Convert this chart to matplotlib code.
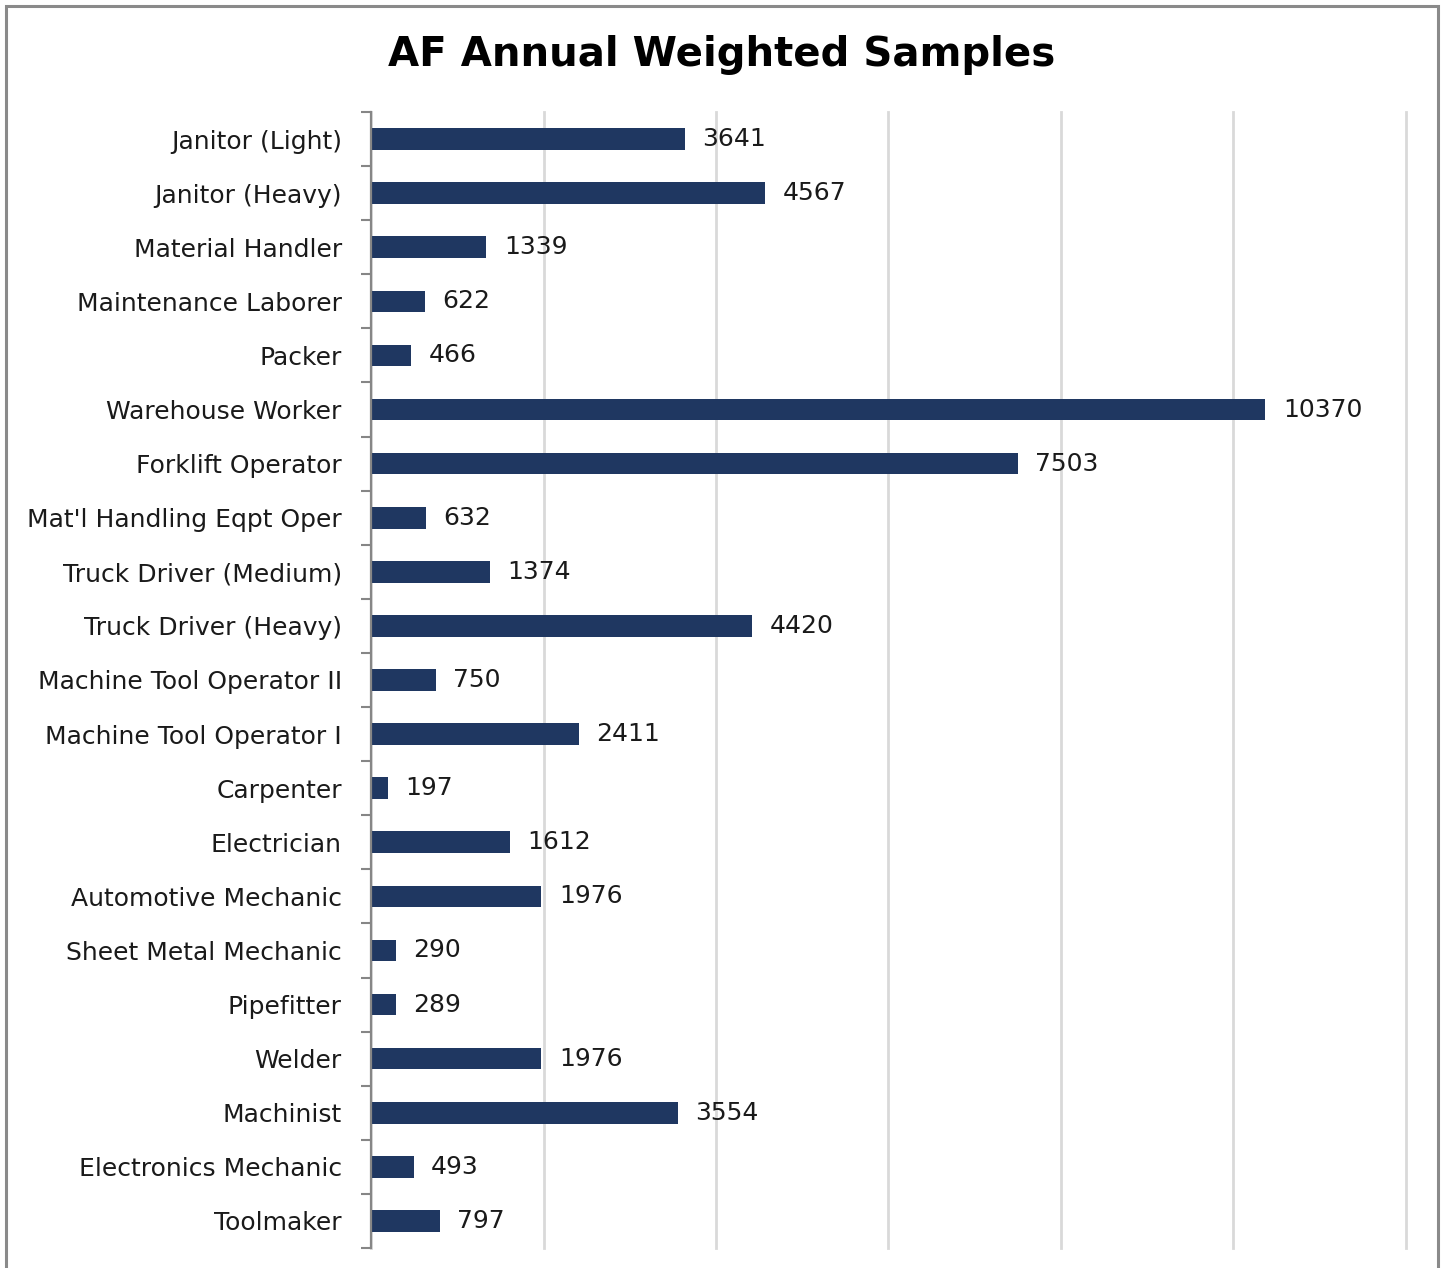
import matplotlib
matplotlib.use("Agg")
import matplotlib.pyplot as plt
import numpy as np
from matplotlib.patches import Rectangle

categories = ["Janitor (Light)", "Janitor (Heavy)", "Material Handler", "Maintenance Laborer",
              "Packer", "Warehouse Worker", "Forklift Operator", "Mat'l Handling Eqpt Oper",
              "Truck Driver (Medium)", "Truck Driver (Heavy)", "Machine Tool Operator II",
              "Machine Tool Operator I", "Carpenter", "Electrician", "Automotive Mechanic",
              "Sheet Metal Mechanic", "Pipefitter", "Welder", "Machinist",
              "Electronics Mechanic", "Toolmaker"]
values = [3641, 4567, 1339, 622, 466, 10370, 7503, 632, 1374, 4420, 750, 2411,
          197, 1612, 1976, 290, 289, 1976, 3554, 493, 797]
title = "AF Annual Weighted Samples"

plt.rcParams['font.family'] = ['DejaVu Sans']

W, H = 1444, 1268
fig = plt.figure(figsize=(W / 100, H / 100), dpi=100)
fig.patch.set_facecolor('white')

# outer border
fig.add_artist(Rectangle((6 / W, -0.05), (1438 - 6) / W, 1 - 6 / H + 0.05,
                         transform=fig.transFigure, fill=False,
                         edgecolor='#8a8a8a', linewidth=2.2))

ax = fig.add_axes([371 / W, 1 - 1248 / H, (1406 - 371) / W, (1248 - 112) / H])
y = np.arange(len(categories))
bars = ax.barh(y, values, height=0.4, color='#1F3761', zorder=3)
texts = ax.bar_label(bars, labels=[str(v) for v in values], padding=12.5,
                     fontsize=18, color='#1a1a1a')

ax.set_xlim(0, 12000)
ax.set_ylim(len(categories) - 0.5, -0.5)
ax.set_xticks(np.arange(0, 12001, 2000))
ax.tick_params(axis='x', length=0, labelbottom=False)
ax.grid(axis='x', color='#d9d9d9', linewidth=2, zorder=0)
for gl in ax.get_xgridlines():
    gl.set_clip_on(False)
ax.set_axisbelow(True)

ax.set_yticks(y)
ax.set_yticklabels(categories, fontsize=18, color='#1a1a1a')
ax.tick_params(axis='y', which='major', length=0, pad=21)
ax.set_yticks(np.arange(-0.5, len(categories), 1.0), minor=True)
ax.tick_params(axis='y', which='minor', length=7.2, width=1.5, color='#868686', direction='out')

for s in ['top', 'right', 'bottom']:
    ax.spines[s].set_visible(False)
ax.spines['left'].set_color('#868686')
ax.spines['left'].set_linewidth(1.6)
ax.spines['left'].set_zorder(4)

fig.text(722 / W, 1 - 55 / H, title, ha='center', va='center',
         fontsize=29, fontweight='bold', color='black')

fig.savefig('out.png', dpi=100, facecolor='white')
